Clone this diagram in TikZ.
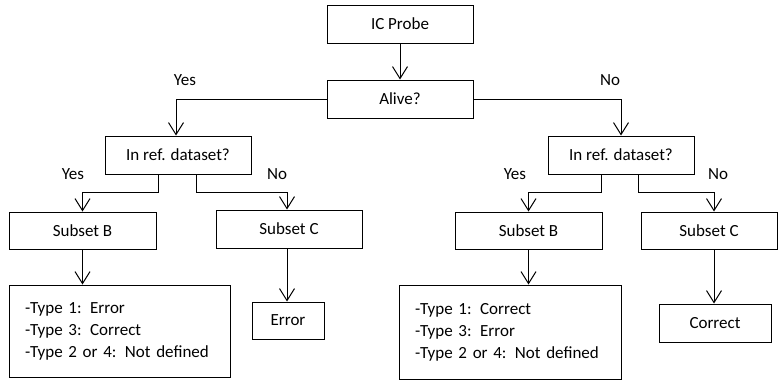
\documentclass[tikz,border=0pt]{standalone}
\usepackage{fontspec}
\setmainfont{Carlito}
\usepackage{tikz}
\usetikzlibrary{arrows.meta}

\tikzset{
  box/.style={draw, line width=1pt, inner sep=0pt, font=\fontsize{17}{22}\selectfont},
  lbl/.style={font=\fontsize{17}{22}\selectfont},
  arr/.style={line width=1pt, -{Straight Barb[length=12pt,width=15pt]}}
}

\begin{document}
\begin{tikzpicture}[x=1pt,y=-1pt]
  \useasboundingbox (0,0) rectangle (778,380);

  \node[box, minimum width=146pt, minimum height=38pt] (probe) at (400,24)  {IC Probe};
  \node[box, minimum width=146pt, minimum height=38pt] (alive) at (400,99)  {Alive?};
  \node[box, minimum width=146pt, minimum height=38pt] (refL)  at (178,155) {In ref. dataset?};
  \node[box, minimum width=146pt, minimum height=38pt] (refR)  at (621,155) {In ref. dataset?};
  \node[box, minimum width=147pt, minimum height=37pt] (subBL) at (82.5,230.5) {Subset B};
  \node[box, minimum width=146pt, minimum height=38pt] (subCL) at (289,229)   {Subset C};
  \node[box, minimum width=147pt, minimum height=37pt] (subBR) at (528.5,230.5) {Subset B};
  \node[box, minimum width=136pt, minimum height=37pt] (subCR) at (709,230.5)   {Subset C};
  \node[box, minimum width=221pt, minimum height=92pt, align=left,
        text width=189pt] (listL) at (119.5,331)
        {-Type 1: Error\\-Type 3: Correct\\-Type 2 or 4: Not defined};
  \node[box, minimum width=72pt, minimum height=37pt]  (errL)  at (288,320.5) {Error};
  \node[box, minimum width=222pt, minimum height=94pt, align=left,
        text width=190pt] (listR) at (510,332)
        {-Type 1: Correct\\-Type 3: Error\\-Type 2 or 4: Not defined};
  \node[box, minimum width=112pt, minimum height=38pt] (corrR) at (715,323) {Correct};

  \node[lbl] (yesA) at (185,80)  {Yes};
  \node[lbl] (noA)  at (610,80)  {No};
  \node[lbl] (yesL) at (73,174)  {Yes};
  \node[lbl] (noL)  at (277,174) {No};
  \node[lbl] (yesR) at (515,174) {Yes};
  \node[lbl] (noR)  at (718,174) {No};

  \draw[arr] (probe) -- (alive);
  \draw[arr] (alive.west) -| ([xshift=-2pt]refL.north);
  \draw[arr] (alive.east) -| (refR.north);

  \draw[arr] ([xshift=-20pt]refL.south) -- ++(0,18) -| (subBL.north);
  \draw[arr] ([xshift=18pt]refL.south) -- ++(0,18) -| ([xshift=-2pt]subCL.north);
  \draw[arr] ([xshift=-20pt]refR.south) -- ++(0,18) -| (subBR.north);
  \draw[arr] ([xshift=17pt]refR.south) -- ++(0,18) -| ([xshift=5pt]subCR.north);

  \draw[arr] (subBL.south) -- (subBL.south |- listL.north);
  \draw[arr] ([xshift=-2pt]subCL.south) -- ([xshift=-2pt]subCL.south |- errL.north);
  \draw[arr] (subBR.south) -- (subBR.south |- listR.north);
  \draw[arr] ([xshift=5pt]subCR.south) -- ([xshift=5pt]subCR.south |- corrR.north);
\end{tikzpicture}
\end{document}
